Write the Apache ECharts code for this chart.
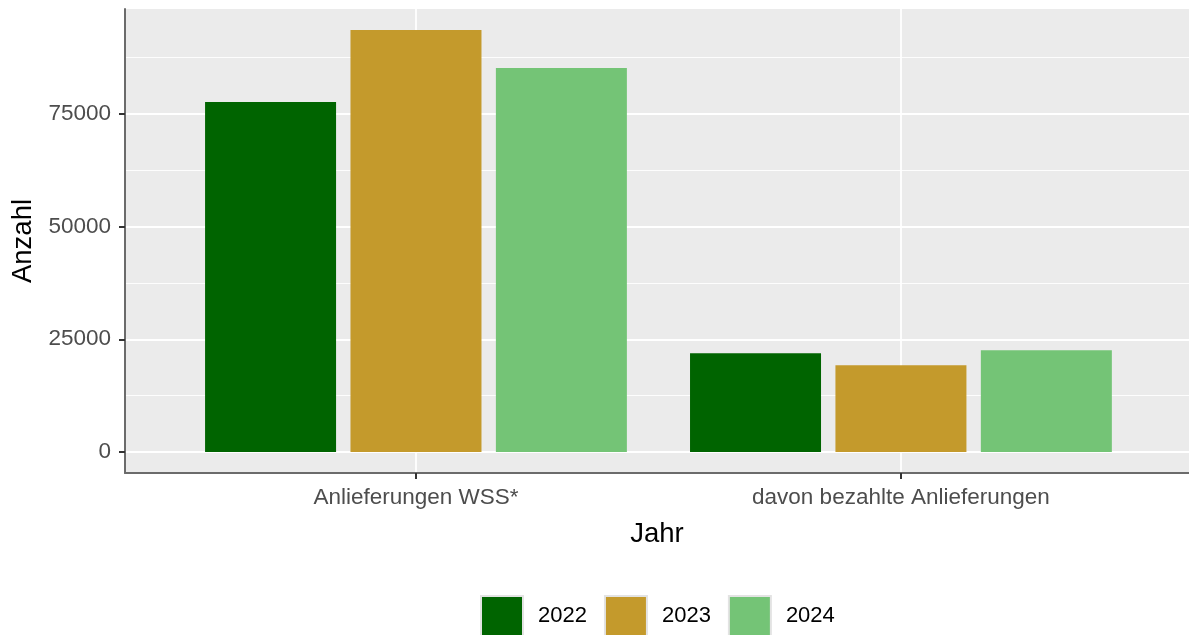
<!DOCTYPE html>
<html>
<head>
<meta charset="utf-8">
<script src="https://cdn.jsdelivr.net/npm/echarts@6/dist/echarts.min.js"></script>
<style>html,body{margin:0;padding:0;background:#fff;}#c{width:1189px;height:635px;}</style>
</head>
<body>
<div id="c"></div>
<script>
const categories = ['Anlieferungen WSS*', 'davon bezahlte Anlieferungen'];
const years = ['2022', '2023', '2024'];
const values2022 = [77650, 21910];
const values2023 = [93620, 19250];
const values2024 = [85200, 22580];
const yTicks = [0, 25000, 50000, 75000];
const yMinorTicks = [12500, 37500, 62500, 87500];
const colors = ['#006400', '#C49A2C', '#74C476'];

const allVals = values2022.concat(values2023, values2024);
const vmax = Math.max.apply(null, allVals);
const yMax = vmax * 1.05;
const yMin = -vmax * 0.05;
const catPos = categories.map((c, i) => i + 1);

const seriesValues = [values2022, values2023, values2024];
const font = 'Liberation Sans, Arial, sans-serif';

const series = [];
years.forEach((y, k) => {
  series.push({
    name: y, type: 'bar', z: 3,
    barWidth: 131, barGap: '11%',
    itemStyle: {color: colors[k]},
    data: catPos.map((p, i) => [p, seriesValues[k][i]])
  });
});

const chart = echarts.init(document.getElementById('c'));
chart.setOption({
  animation: false,
  grid: {left: 125, right: 0, top: 9, bottom: 162, show: true, backgroundColor: '#EBEBEB', borderWidth: 0},
  legend: {
    data: years, left: 480, top: 595, orient: 'horizontal', padding: 0,
    itemWidth: 42, itemHeight: 40, itemGap: 17, icon: 'rect',
    itemStyle: {borderColor: '#E3E3E3', borderWidth: 2},
    textStyle: {fontFamily: font, fontSize: 22, color: '#000', padding: [0, 0, 0, 10]}
  },
  xAxis: {
    type: 'value', min: 0.4, max: 2.594,
    name: 'Jahr', nameLocation: 'middle', nameGap: 47,
    nameTextStyle: {fontFamily: font, fontSize: 27.5, color: '#000', verticalAlign: 'top'},
    axisLine: {show: true, onZero: false, lineStyle: {color: '#6B6B6B', width: 2}},
    axisTick: {show: true, length: 6, customValues: catPos, lineStyle: {color: '#333', width: 2}},
    axisLabel: {customValues: catPos, margin: 13, fontFamily: font, fontSize: 22.5, color: '#4D4D4D',
      formatter: v => categories[Math.round(v) - 1] || ''},
    splitLine: {show: true, lineStyle: {color: '#FFFFFF', width: 1.8}}
  },
  yAxis: [{
    type: 'value', min: yMin, max: yMax,
    name: 'Anzahl', nameLocation: 'middle', nameGap: 85,
    nameTextStyle: {fontFamily: font, fontSize: 27.5, color: '#000'},
    axisLine: {show: true, onZero: false, lineStyle: {color: '#6B6B6B', width: 2}},
    axisTick: {show: true, length: 6, customValues: yTicks, lineStyle: {color: '#333', width: 2}},
    axisLabel: {customValues: yTicks, margin: 14, fontFamily: font, fontSize: 22.5, color: '#4D4D4D',
      formatter: v => String(v)},
    splitLine: {show: true, lineStyle: {color: '#FFFFFF', width: 1.8}}
  }, {
    type: 'value', min: yMin, max: yMax, position: 'left',
    axisLine: {show: false}, axisLabel: {show: false, customValues: yMinorTicks},
    axisTick: {show: false, customValues: yMinorTicks},
    splitLine: {show: true, lineStyle: {color: '#FFFFFF', width: 0.9}}
  }],
  series: series
});
</script>
</body>
</html>
